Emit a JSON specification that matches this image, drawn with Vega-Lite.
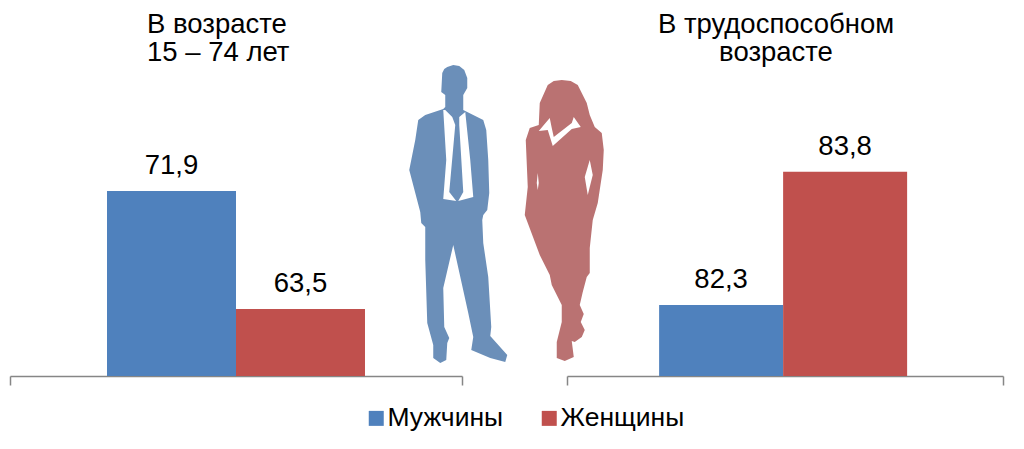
{
"$schema":"https://vega.github.io/schema/vega-lite/v6.json",
"padding":{"left":9,"top":10,"right":21,"bottom":0},
"spacing":0,
"bounds":"flush",
"background":"white",
"config":{"view":{"stroke":null},"font":"Liberation Sans"},
"datasets":{
"left":[{"Пол":"Мужчины","Значение":71.9,"Подпись":"71,9"},{"Пол":"Женщины","Значение":63.5,"Подпись":"63,5"}],
"right":[{"Пол":"Мужчины","Значение":82.3,"Подпись":"82,3"},{"Пол":"Женщины","Значение":83.8,"Подпись":"83,8"}],
"edges":[{"Край":0},{"Край":1}],
"figures":[{"Пол":"Мужчины"},{"Пол":"Женщины"}]
},
"hconcat":[
{"width":452,"height":300,
"title":{"text":["В возрасте","15 – 74 лет"],"anchor":"start","frame":"group","dx":137,"align":"left","fontSize":27.5,"fontWeight":"normal","lineHeight":28,"offset":10,"color":"#000000"},
"resolve":{"scale":{"x":"independent"}},
"layer":[
{"data":{"name":"left"},
"encoding":{"x":{"field":"Пол","type":"nominal","scale":{"domain":["Мужчины","Женщины"],"paddingInner":0,"paddingOuter":0.752},"axis":null},
"y":{"field":"Значение","type":"quantitative","scale":{"domain":[58.73,80.08],"nice":false,"zero":false},"axis":null}},
"layer":[
{"mark":{"type":"bar","clip":true},"encoding":{"color":{"field":"Пол","type":"nominal","scale":{"domain":["Мужчины","Женщины"],"range":["#4F81BD","#C0504D"]},
"legend":{"orient":"none","legendX":353,"legendY":329,"direction":"horizontal","columns":2,"title":null,"symbolType":"square","symbolSize":225,"symbolStrokeWidth":0,"labelFontSize":26.5,"labelColor":"#000000","labelOffset":-2,"columnPadding":32,"labelLimit":300}}}},
{"mark":{"type":"text","baseline":"bottom","dy":-11,"fontSize":27.5,"color":"#000000"},"encoding":{"text":{"field":"Подпись","type":"nominal"}}}
]},
{"data":{"name":"edges"},"mark":{"type":"rule","opacity":0},
"encoding":{"x":{"field":"Край","type":"quantitative","scale":{"domain":[0,1],"nice":false},"axis":{"values":[0,1],"labels":false,"title":null,"grid":false,"tickSize":9,"tickColor":"#868686","tickWidth":1.5,"domainColor":"#868686","domainWidth":1.5}}}}
]},
{"width":105,"height":300,
"data":{"name":"figures"},
"encoding":{"x":{"field":"Пол","type":"nominal","scale":{"domain":["Мужчины","Женщины"]},"axis":null}},
"layer":[
{"transform":[{"filter":"datum['Пол'] === 'Мужчины'"}],
"mark":{"type":"point","filled":true,"size":4,"opacity":1,"strokeWidth":0,"fill":"#6B8FB9",
"shape":"M-35,-161L-29,-160L-24,-156L-21,-148L-21,-138L-25,-131L-25,-116L-23,-115L-5,-106L-2,-96L0,-66L1,-33L-1,-16L-5,-11L-6,-6L-5,17L0,51L3,101L2,110L19,129L17,136L2,132L-17,124L-15,111L-20,87L-35,19L-45,62L-44,101L-39,112L-41,117L-42,134L-48,137L-55,132L-55,119L-61,97L-63,34L-63,1L-67,-3L-68,-14L-79,-56L-73,-86L-70,-106L-63,-111L-45,-117L-43,-119L-43,-131L-47,-134L-46,-153L-44,-157L-41,-159ZM-45,-116L-42,-66L-45,-27L-32,-25L-39,-34L-33,-101L-36,-109L-43,-116ZM-23,-114L-29,-109L-29,-101L-25,-34L-30,-25L-15,-29L-18,-66Z"}},
{"transform":[{"filter":"datum['Пол'] === 'Женщины'"}],
"mark":{"type":"point","filled":true,"size":4,"opacity":1,"strokeWidth":0,"fill":"#BA7272",
"shape":"M21,-146L30,-145L37,-141L46,-123L49,-111L54,-99L61,-93L63,-76L62,-56L57,-23L52,-6L49,22L49,47L46,51L42,66L39,79L43,88L40,96L44,104L41,111L34,116L31,115L33,131L24,135L16,132L16,116L21,96L21,79L11,59L9,49L-1,29L-16,-11L-13,-39L-15,-86L-11,-98L-2,-101L-1,-123L7,-141L13,-145ZM-2,-95L7,-96L12,-80L31,-97L40,-99L33,-109L31,-103L13,-89L11,-98L9,-108ZM49,-66L44,-49L47,-31L52,-51ZM-3,-53L-4,-43L-3,-36L-2,-43Z"}}
]},
{"width":436,"height":300,
"title":{"text":["В трудоспособном","возрасте"],"anchor":"middle","frame":"group","dx":-9,"align":"center","fontSize":27.5,"fontWeight":"normal","lineHeight":28,"offset":10,"color":"#000000"},
"resolve":{"scale":{"x":"independent"}},
"layer":[
{"data":{"name":"right"},
"encoding":{"x":{"field":"Пол","type":"nominal","scale":{"domain":["Мужчины","Женщины"],"paddingInner":0,"paddingOuter":0.758,"align":0.49},"axis":null},
"y":{"field":"Значение","type":"quantitative","scale":{"domain":[81.5,84.88],"nice":false,"zero":false},"axis":null}},
"layer":[
{"mark":{"type":"bar","clip":true},"encoding":{"color":{"field":"Пол","type":"nominal"}}},
{"mark":{"type":"text","baseline":"bottom","dy":-11,"fontSize":27.5,"color":"#000000"},"encoding":{"text":{"field":"Подпись","type":"nominal"}}}
]},
{"data":{"name":"edges"},"mark":{"type":"rule","opacity":0},
"encoding":{"x":{"field":"Край","type":"quantitative","scale":{"domain":[0,1],"nice":false},"axis":{"values":[0,1],"labels":false,"title":null,"grid":false,"tickSize":9,"tickColor":"#868686","tickWidth":1.5,"domainColor":"#868686","domainWidth":1.5}}}}
]}
]
}
